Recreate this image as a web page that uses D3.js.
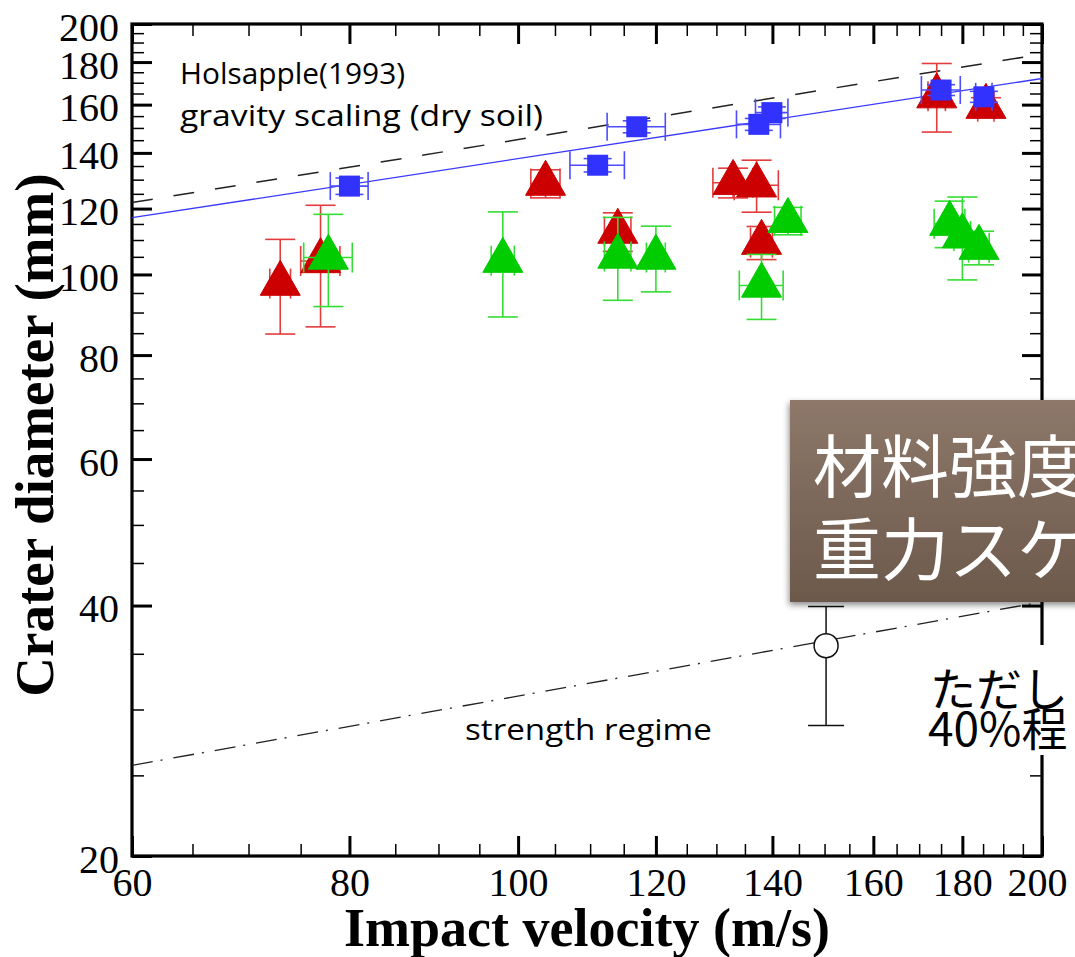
<!DOCTYPE html>
<html><head><meta charset="utf-8">
<script src="https://cdn.jsdelivr.net/npm/d3@7"></script>
<style>html,body{margin:0;padding:0;background:#fff;overflow:hidden}</style>
</head><body>
<svg id="chart" width="1075" height="957"></svg>
<script>
// Impact velocity (m/s) and crater diameter (mm) for each target series
const blueV    = [80.0, 111.1, 117.0, 137.5, 139.9, 175.0, 185.2];
const blueD    = [127.7, 135.3, 150.5, 151.5, 156.5, 166.6, 163.5];
const blueVErr = [2.0, 4.0, 4.5, 4.0, 3.0, 4.5, 2.0];
const blueDErr = [2.9, 2.5, 2.5, 2.5, 2.5, 2.5, 2.5];

const redV    = [73.0, 77.0, 103.7, 114.1, 132.9, 137.1, 138.0, 174.0, 185.7];
const redD    = [97.5, 103.8, 128.6, 112.6, 128.9, 128.0, 109.2, 163.8, 159.1];
const redVErr = [1.0, 2.0, 2.0, 2.0, 3.5, 4.0, 2.0, 2.0, 2.0];
const redDErr = [12.7, 17.3, 5.0, 6.0, 5.3, 9.2, 5.0, 15.5, 4.0];

const greenV    = [77.8, 98.0, 114.1, 120.0, 138.0, 142.9, 177.0, 180.0, 184.0];
const greenD    = [104.8, 103.9, 105.1, 104.8, 97.0, 116.0, 115.1, 111.2, 107.7];
const greenVErr = [2.5, 1.5, 2.0, 1.5, 4.0, 2.5, 3.6, 2.0, 2.5];
const greenDErr = [13.3, 15.0, 12.0, 9.5, 8.7, 4.4, 7.4, 12.7, 5.0];

// Strength-regime reference point (min / max range)
const strengthV = [150.3];
const strengthD = [35.8];
const strengthLo = [28.7];
const strengthHi = [39.9];

// Scaling lines, end points [velocity, diameter]
const fitLine       = [[60, 117], [200, 172]];
const holsappleLine = [[60, 122], [200, 184]];
const strengthLine  = [[60, 25.7], [200, 40.4]];

// Axis ticks
const xMajor = [60, 80, 100, 120, 140, 160, 180, 200];
const yMajor = [20, 40, 60, 80, 100, 120, 140, 160, 180, 200];
const xMinor = d3.range(65, 200, 5).filter(v => !xMajor.includes(v));
const yMinor = d3.range(25, 200, 5).filter(v => !yMajor.includes(v));

const svg = d3.select("#chart");
const L = 132, R = 1042, T = 24, B = 856;
const x = d3.scaleLog().domain([60, 200]).range([L, R]);
const y = d3.scaleLog().domain([20, 200]).range([B, T]);

const defs = svg.append("defs");
const grad = defs.append("linearGradient").attr("id", "boxGrad")
  .attr("x1", 0).attr("y1", 0).attr("x2", 0).attr("y2", 1);
grad.append("stop").attr("offset", "0%").attr("stop-color", "#8d786a");
grad.append("stop").attr("offset", "100%").attr("stop-color", "#6c594b");
const sh = defs.append("filter").attr("id", "boxShadow")
  .attr("x", "-10%").attr("y", "-10%").attr("width", "130%").attr("height", "130%");
sh.append("feDropShadow").attr("dx", -1).attr("dy", 3).attr("stdDeviation", 3)
  .attr("flood-color", "#000").attr("flood-opacity", 0.45);

// Tick marks on all four sides, pointing inward
function ticks(axisFn, vals, size, width, transform, fmt) {
  const a = axisFn(transform.scale).tickValues(vals).tickSize(-size)
    .tickFormat(fmt || "").tickPadding(transform.pad || 0);
  const g = svg.append("g").attr("transform", transform.t).call(a);
  g.select(".domain").remove();
  g.selectAll(".tick line").attr("stroke", "#000").attr("stroke-width", width);
  return g;
}
ticks(d3.axisBottom, xMinor, 12, 1.5, {scale: x, t: `translate(0,${B})`});
ticks(d3.axisTop, xMinor, 12, 1.5, {scale: x, t: `translate(0,${T})`});
ticks(d3.axisLeft, yMinor, 12, 1.5, {scale: y, t: `translate(${L},0)`});
ticks(d3.axisRight, yMinor, 12, 1.5, {scale: y, t: `translate(${R},0)`});
ticks(d3.axisTop, xMajor, 20, 3, {scale: x, t: `translate(0,${T})`});
ticks(d3.axisRight, yMajor, 20, 3, {scale: y, t: `translate(${R},0)`});

const gx = ticks(d3.axisBottom, xMajor, 20, 3, {scale: x, t: `translate(0,${B})`, pad: 12}, d3.format("d"));
gx.selectAll(".tick text").attr("font-family", "Liberation Serif").attr("font-size", 40).attr("fill", "#000")
  .attr("dx", d => d === 200 ? -5 : 0);
const gy = ticks(d3.axisLeft, yMajor, 20, 3, {scale: y, t: `translate(${L},0)`, pad: 13}, d3.format("d"));
gy.selectAll(".tick text").attr("font-family", "Liberation Serif").attr("font-size", 40)
  .attr("fill", "#000").attr("dy", "0.4em");

// Frame
svg.append("rect").attr("x", L).attr("y", T).attr("width", R - L).attr("height", B - T)
  .attr("fill", "none").attr("stroke", "#000").attr("stroke-width", 3.2);

// Axis titles
svg.append("text").attr("x", (L + R) / 2).attr("y", 946).attr("text-anchor", "middle")
  .attr("font-family", "Liberation Serif").attr("font-weight", "bold").attr("font-size", 54)
  .text("Impact velocity (m/s)");
svg.append("text").attr("transform", "translate(53,435) rotate(-90)").attr("text-anchor", "middle")
  .attr("font-family", "Liberation Serif").attr("font-weight", "bold").attr("font-size", 55)
  .text("Crater diameter (mm)");

// Scaling lines
const line = d3.line().x(d => x(d[0])).y(d => y(d[1]));
svg.append("path").datum(holsappleLine).attr("d", line).attr("fill", "none")
  .attr("stroke", "#222").attr("stroke-width", 1.5).attr("stroke-dasharray", "21,21");
svg.append("path").datum(fitLine).attr("d", line).attr("fill", "none")
  .attr("stroke", "#3a3aff").attr("stroke-width", 1.3);
svg.append("path").datum(strengthLine).attr("d", line).attr("fill", "none")
  .attr("stroke", "#222").attr("stroke-width", 1.3).attr("stroke-dasharray", "21,8,2,11");

// Error bars + markers
function series(vs, ds, vErr, dErr, barColor, fill, shape, cap) {
  const g = svg.append("g");
  vs.forEach((v, i) => {
    const cx = x(v), cy = y(ds[i]);
    const y1 = y(ds[i] + dErr[i]), y2 = y(ds[i] - dErr[i]);
    const x1 = x(v - vErr[i]), x2 = x(v + vErr[i]);
    const e = g.append("g").attr("stroke", barColor).attr("stroke-width", 1.6);
    e.append("line").attr("x1", cx).attr("x2", cx).attr("y1", y1).attr("y2", y2);
    e.append("line").attr("x1", cx - cap).attr("x2", cx + cap).attr("y1", y1).attr("y2", y1);
    e.append("line").attr("x1", cx - cap).attr("x2", cx + cap).attr("y1", y2).attr("y2", y2);
    e.append("line").attr("x1", x1).attr("x2", x2).attr("y1", cy).attr("y2", cy);
    e.append("line").attr("x1", x1).attr("x2", x1).attr("y1", cy - cap).attr("y2", cy + cap);
    e.append("line").attr("x1", x2).attr("x2", x2).attr("y1", cy - cap).attr("y2", cy + cap);
  });
  vs.forEach((v, i) => {
    const cx = x(v), cy = y(ds[i]);
    if (shape === "tri") {
      g.append("path").attr("d", `M${cx},${cy - 23.3}L${cx + 20},${cy + 11.7}L${cx - 20},${cy + 11.7}Z`)
        .attr("fill", fill).attr("stroke", fill).attr("stroke-width", 1);
    } else {
      g.append("rect").attr("x", cx - 10.5).attr("y", cy - 10.5).attr("width", 21).attr("height", 21)
        .attr("fill", fill);
    }
  });
}
series(redV, redD, redVErr, redDErr, "#e23c3c", "#cc0000", "tri", 15);
series(greenV, greenD, greenVErr, greenDErr, "#33dd33", "#00cc00", "tri", 15);
series(blueV, blueD, blueVErr, blueDErr, "#4d4dff", "#3232ff", "sq", 14);

// Strength-regime point
strengthV.forEach((v, i) => {
  const cx = x(v), cy = y(strengthD[i]);
  const g = svg.append("g").attr("stroke", "#111").attr("stroke-width", 1.5);
  const yt = y(strengthHi[i]), yb = y(strengthLo[i]);
  g.append("line").attr("x1", cx).attr("x2", cx).attr("y1", yt).attr("y2", yb);
  g.append("line").attr("x1", cx - 18).attr("x2", cx + 18).attr("y1", yt).attr("y2", yt);
  g.append("line").attr("x1", cx - 18).attr("x2", cx + 18).attr("y1", yb).attr("y2", yb);
  g.append("circle").attr("cx", cx).attr("cy", cy).attr("r", 12).attr("fill", "#fff");
});

// Annotations
const sans = "Open Sans";
svg.append("text").attr("x", 180).attr("y", 84).attr("font-family", sans).attr("font-size", 29)
  .attr("textLength", 225).attr("lengthAdjust", "spacingAndGlyphs").text("Holsapple(1993)");
svg.append("text").attr("x", 180).attr("y", 126).attr("font-family", sans).attr("font-size", 29)
  .attr("textLength", 363).attr("lengthAdjust", "spacingAndGlyphs").text("gravity scaling (dry soil)");
svg.append("text").attr("x", 465).attr("y", 740).attr("font-family", sans).attr("font-size", 29)
  .attr("textLength", 247).attr("lengthAdjust", "spacingAndGlyphs").text("strength regime");

// Slide overlay
svg.append("rect").attr("x", 790).attr("y", 400).attr("width", 320).attr("height", 202)
  .attr("fill", "url(#boxGrad)").attr("filter", "url(#boxShadow)");
const jp = "Noto Sans CJK JP";
svg.append("text").attr("x", 813).attr("y", 462).attr("dominant-baseline", "central")
  .attr("font-family", jp).attr("font-size", 68).attr("fill", "#fff").text("材料強度");
svg.append("text").attr("x", 813).attr("y", 545).attr("dominant-baseline", "central")
  .attr("font-family", jp).attr("font-size", 68).attr("fill", "#fff").text("重力スケ");

svg.append("rect").attr("x", 922).attr("y", 645).attr("width", 160).attr("height", 110).attr("fill", "#fff");
svg.append("text").attr("x", 930).attr("y", 706).attr("font-family", jp).attr("font-size", 46)
  .attr("fill", "#000").text("ただし");
svg.append("text").attr("x", 928).attr("y", 746).attr("font-family", jp).attr("font-size", 46)
  .attr("fill", "#000").text("40%程");
</script>
</body></html>
